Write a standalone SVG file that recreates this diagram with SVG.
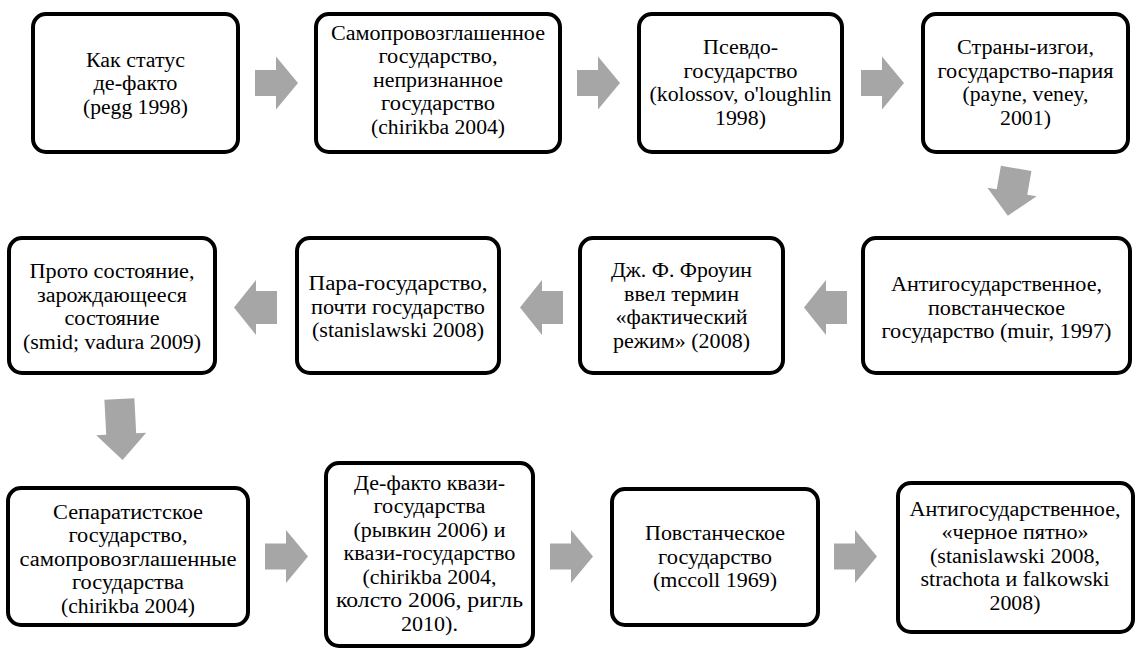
<svg xmlns="http://www.w3.org/2000/svg" width="1135" height="648" viewBox="0 0 1135 648">
<style>
.box{fill:#fff;stroke:#000;stroke-width:4}
.arr{fill:#a6a6a6}
</style>
<defs>
<path id="ar" d="M0,-13 H21 V-26.5 L43,0 L21,26.5 V13 H0 Z"/>
<path id="al" d="M0,-16.5 H-21 V-27.5 L-43,0 L-21,27.5 V16.5 H0 Z"/>
<path id="ad" d="M-15.5,-24 H15.5 V0 H25 L0,24 L-25,0 H-15.5 Z"/>
</defs>
<rect width="1135" height="648" fill="#fff"/>
<g id="connectors" class="arr">
<use href="#ar" x="255" y="83"/>
<use href="#ar" x="577" y="83"/>
<use href="#ar" x="861" y="83"/>
<use href="#ad" transform="translate(1012 192) rotate(10)"/>
<use href="#al" x="847" y="307.5"/>
<use href="#al" x="563" y="307.5"/>
<use href="#al" x="277" y="307.5"/>
<path d="M-15,-31 H15 V4 H25 L0,30 L-25,4 H-15 Z" transform="translate(121 430) rotate(-3)"/>
<use href="#ar" x="265" y="556.5"/>
<use href="#ar" x="550" y="556.5"/>
<use href="#ar" x="834" y="556.5"/>
</g>
<g id="n1"><rect class="box" x="33" y="14" width="205" height="138" rx="13"/>
<text x="135.5" y="66.5" font-family="Liberation Serif" font-size="20" text-anchor="middle" textLength="99" lengthAdjust="spacingAndGlyphs">Как статус</text>
<text x="135.5" y="90" font-family="Liberation Serif" font-size="20" text-anchor="middle" textLength="84" lengthAdjust="spacingAndGlyphs">де-факто</text>
<text x="135.5" y="113.5" font-family="Liberation Serif" font-size="20" text-anchor="middle" textLength="105" lengthAdjust="spacingAndGlyphs">(pegg 1998)</text></g>
<g id="n2"><rect class="box" x="316" y="14" width="244" height="138" rx="13"/>
<text x="438" y="39.6" font-family="Liberation Serif" font-size="20" text-anchor="middle" textLength="214" lengthAdjust="spacingAndGlyphs">Самопровозглашенное</text>
<text x="438" y="63.1" font-family="Liberation Serif" font-size="20" text-anchor="middle" textLength="119" lengthAdjust="spacingAndGlyphs">государство,</text>
<text x="438" y="86.6" font-family="Liberation Serif" font-size="20" text-anchor="middle" textLength="130" lengthAdjust="spacingAndGlyphs">непризнанное</text>
<text x="438" y="110.1" font-family="Liberation Serif" font-size="20" text-anchor="middle" textLength="114" lengthAdjust="spacingAndGlyphs">государство</text>
<text x="438" y="133.6" font-family="Liberation Serif" font-size="20" text-anchor="middle" textLength="134" lengthAdjust="spacingAndGlyphs">(chirikba 2004)</text></g>
<g id="n3"><rect class="box" x="639" y="14" width="203" height="138" rx="13"/>
<text x="740.5" y="54.4" font-family="Liberation Serif" font-size="20" text-anchor="middle" textLength="75" lengthAdjust="spacingAndGlyphs">Псевдо-</text>
<text x="740.5" y="77.9" font-family="Liberation Serif" font-size="20" text-anchor="middle" textLength="114" lengthAdjust="spacingAndGlyphs">государство</text>
<text x="740.5" y="101.4" font-family="Liberation Serif" font-size="20" text-anchor="middle" textLength="182" lengthAdjust="spacingAndGlyphs">(kolossov, o'loughlin</text>
<text x="740.5" y="124.9" font-family="Liberation Serif" font-size="20" text-anchor="middle" textLength="51" lengthAdjust="spacingAndGlyphs">1998)</text></g>
<g id="n4"><rect class="box" x="923" y="14" width="205" height="138" rx="13"/>
<text x="1025.5" y="54.4" font-family="Liberation Serif" font-size="20" text-anchor="middle" textLength="137" lengthAdjust="spacingAndGlyphs">Страны-изгои,</text>
<text x="1025.5" y="77.9" font-family="Liberation Serif" font-size="20" text-anchor="middle" textLength="176" lengthAdjust="spacingAndGlyphs">государство-пария</text>
<text x="1025.5" y="101.4" font-family="Liberation Serif" font-size="20" text-anchor="middle" textLength="126" lengthAdjust="spacingAndGlyphs">(payne, veney,</text>
<text x="1025.5" y="124.9" font-family="Liberation Serif" font-size="20" text-anchor="middle" textLength="51" lengthAdjust="spacingAndGlyphs">2001)</text></g>
<g id="n5"><rect class="box" x="863" y="238" width="267" height="135" rx="13"/>
<text x="996.5" y="291.1" font-family="Liberation Serif" font-size="20" text-anchor="middle" textLength="211" lengthAdjust="spacingAndGlyphs">Антигосударственное,</text>
<text x="996.5" y="314.6" font-family="Liberation Serif" font-size="20" text-anchor="middle" textLength="137" lengthAdjust="spacingAndGlyphs">повстанческое</text>
<text x="996.5" y="338.1" font-family="Liberation Serif" font-size="20" text-anchor="middle" textLength="230" lengthAdjust="spacingAndGlyphs">государство (muir, 1997)</text></g>
<g id="n6"><rect class="box" x="580" y="238" width="203" height="135" rx="13"/>
<text x="681.5" y="277.4" font-family="Liberation Serif" font-size="20" text-anchor="middle" textLength="141" lengthAdjust="spacingAndGlyphs">Дж. Ф. Фроуин</text>
<text x="681.5" y="300.9" font-family="Liberation Serif" font-size="20" text-anchor="middle" textLength="115" lengthAdjust="spacingAndGlyphs">ввел термин</text>
<text x="681.5" y="324.4" font-family="Liberation Serif" font-size="20" text-anchor="middle" textLength="132" lengthAdjust="spacingAndGlyphs">«фактический</text>
<text x="681.5" y="347.9" font-family="Liberation Serif" font-size="20" text-anchor="middle" textLength="137" lengthAdjust="spacingAndGlyphs">режим» (2008)</text></g>
<g id="n7"><rect class="box" x="297" y="238" width="202" height="135" rx="13"/>
<text x="398" y="290.1" font-family="Liberation Serif" font-size="20" text-anchor="middle" textLength="179" lengthAdjust="spacingAndGlyphs">Пара-государство,</text>
<text x="398" y="313.6" font-family="Liberation Serif" font-size="20" text-anchor="middle" textLength="174" lengthAdjust="spacingAndGlyphs">почти государство</text>
<text x="398" y="337.1" font-family="Liberation Serif" font-size="20" text-anchor="middle" textLength="172" lengthAdjust="spacingAndGlyphs">(stanislawski 2008)</text></g>
<g id="n8"><rect class="box" x="9" y="238" width="206" height="135" rx="13"/>
<text x="112" y="278.4" font-family="Liberation Serif" font-size="20" text-anchor="middle" textLength="165" lengthAdjust="spacingAndGlyphs">Прото состояние,</text>
<text x="112" y="301.9" font-family="Liberation Serif" font-size="20" text-anchor="middle" textLength="150" lengthAdjust="spacingAndGlyphs">зарождающееся</text>
<text x="112" y="325.4" font-family="Liberation Serif" font-size="20" text-anchor="middle" textLength="95" lengthAdjust="spacingAndGlyphs">состояние</text>
<text x="112" y="348.9" font-family="Liberation Serif" font-size="20" text-anchor="middle" textLength="178" lengthAdjust="spacingAndGlyphs">(smid; vadura 2009)</text></g>
<g id="n9"><rect class="box" x="8" y="488" width="240" height="137" rx="13"/>
<text x="128" y="518.6" font-family="Liberation Serif" font-size="20" text-anchor="middle" textLength="150" lengthAdjust="spacingAndGlyphs">Сепаратистское</text>
<text x="128" y="542.1" font-family="Liberation Serif" font-size="20" text-anchor="middle" textLength="119" lengthAdjust="spacingAndGlyphs">государство,</text>
<text x="128" y="565.6" font-family="Liberation Serif" font-size="20" text-anchor="middle" textLength="217" lengthAdjust="spacingAndGlyphs">самопровозглашенные</text>
<text x="128" y="589.1" font-family="Liberation Serif" font-size="20" text-anchor="middle" textLength="112" lengthAdjust="spacingAndGlyphs">государства</text>
<text x="128" y="612.6" font-family="Liberation Serif" font-size="20" text-anchor="middle" textLength="134" lengthAdjust="spacingAndGlyphs">(chirikba 2004)</text></g>
<g id="n10"><rect class="box" x="326" y="463" width="207" height="183" rx="13"/>
<text x="429.5" y="489.5" font-family="Liberation Serif" font-size="20" text-anchor="middle" textLength="151" lengthAdjust="spacingAndGlyphs">Де-факто квази-</text>
<text x="429.5" y="513" font-family="Liberation Serif" font-size="20" text-anchor="middle" textLength="112" lengthAdjust="spacingAndGlyphs">государства</text>
<text x="429.5" y="536.5" font-family="Liberation Serif" font-size="20" text-anchor="middle" textLength="152" lengthAdjust="spacingAndGlyphs">(рывкин 2006) и</text>
<text x="429.5" y="560" font-family="Liberation Serif" font-size="20" text-anchor="middle" textLength="172" lengthAdjust="spacingAndGlyphs">квази-государство</text>
<text x="429.5" y="583.5" font-family="Liberation Serif" font-size="20" text-anchor="middle" textLength="134" lengthAdjust="spacingAndGlyphs">(chirikba 2004,</text>
<text x="429.5" y="607" font-family="Liberation Serif" font-size="20" text-anchor="middle" textLength="187" lengthAdjust="spacingAndGlyphs">колсто 2006, ригль</text>
<text x="429.5" y="630.5" font-family="Liberation Serif" font-size="20" text-anchor="middle" textLength="57" lengthAdjust="spacingAndGlyphs">2010).</text></g>
<g id="n11"><rect class="box" x="612" y="489" width="206" height="136" rx="13"/>
<text x="715" y="540" font-family="Liberation Serif" font-size="20" text-anchor="middle" textLength="140" lengthAdjust="spacingAndGlyphs">Повстанческое</text>
<text x="715" y="563.5" font-family="Liberation Serif" font-size="20" text-anchor="middle" textLength="114" lengthAdjust="spacingAndGlyphs">государство</text>
<text x="715" y="587" font-family="Liberation Serif" font-size="20" text-anchor="middle" textLength="124" lengthAdjust="spacingAndGlyphs">(mccoll 1969)</text></g>
<g id="n12"><rect class="box" x="898" y="483" width="235" height="149" rx="13"/>
<text x="1015" y="515.6" font-family="Liberation Serif" font-size="20" text-anchor="middle" textLength="211" lengthAdjust="spacingAndGlyphs">Антигосударственное,</text>
<text x="1015" y="539.1" font-family="Liberation Serif" font-size="20" text-anchor="middle" textLength="147" lengthAdjust="spacingAndGlyphs">«черное пятно»</text>
<text x="1015" y="562.6" font-family="Liberation Serif" font-size="20" text-anchor="middle" textLength="170" lengthAdjust="spacingAndGlyphs">(stanislawski 2008,</text>
<text x="1015" y="586.1" font-family="Liberation Serif" font-size="20" text-anchor="middle" textLength="189" lengthAdjust="spacingAndGlyphs">strachota и falkowski</text>
<text x="1015" y="609.6" font-family="Liberation Serif" font-size="20" text-anchor="middle" textLength="51" lengthAdjust="spacingAndGlyphs">2008)</text></g>
</svg>
